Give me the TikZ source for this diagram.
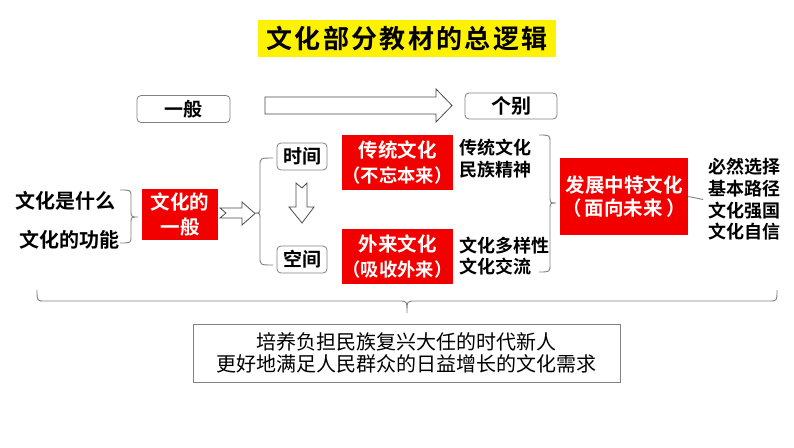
\documentclass[tikz,border=0pt]{standalone}
\usepackage{fontspec}
\setmainfont{Noto Sans CJK SC}[BoldFont={Noto Sans CJK SC Bold}]
\newfontfamily\titlefont{Noto Sans CJK SC Bold}[LetterSpace=9]
\definecolor{redbg}{HTML}{F20000}
\definecolor{linegray}{HTML}{808080}
\begin{document}
\begin{tikzpicture}[x=1pt,y=-1pt,
  redbox/.style={fill=redbg, text=white, align=center, inner sep=0pt,
    font=\bfseries\fontsize{19.5}{25}\selectfont},
  roundbox/.style={draw=linegray, rounded corners=4pt, line width=0.8pt, inner sep=0pt,
    font=\bfseries\fontsize{19}{22}\selectfont},
  plain/.style={inner sep=0pt, align=left, font=\bfseries\fontsize{18}{21.5}\selectfont},
  bracepath/.style={draw=linegray, line width=0.9pt},
  hollow/.style={draw=black!70, fill=white, line width=0.8pt, line join=miter}]
\useasboundingbox (0,0) rectangle (794,447);
\fill[white] (0,0) rectangle (794,447);

% title
\node[fill=yellow, minimum width=298pt, minimum height=37pt, inner sep=0pt,
  font=\titlefont\fontsize{26}{30}\selectfont] (title) at (407,38.5) {文化部分教材的总逻辑};

% top row
\node[roundbox, minimum width=93pt, minimum height=27pt] (yiban) at (183.5,109) {一般};
\node[roundbox, minimum width=92pt, minimum height=26pt, font=\bfseries\fontsize{20}{22}\selectfont] (gebie) at (511,106) {个别};
\draw[hollow] (265,97) -- (436,97) -- (436,89) -- (452,105.5) -- (436,122) -- (436,114) -- (265,114) -- cycle;

% left texts
\node[plain, font=\bfseries\fontsize{20}{22}\selectfont] (q1) at (65,201) {文化是什么};
\node[plain, font=\bfseries\fontsize{20}{22}\selectfont] (q2) at (69,240) {文化的功能};
\draw[bracepath] (120,190) .. controls (131,190) .. (131,197) -- (131,210)
  .. controls (131,217) .. (138,217) .. controls (131,217) .. (131,224) -- (131,236)
  .. controls (131,243) .. (120,243);

\node[redbox, minimum width=76pt, minimum height=51pt] (red1) at (180,214.5) {文化的\\一般};
\draw[hollow] (220,208) -- (242,208) -- (242,202) -- (255,213.5) -- (242,225) -- (242,218) -- (220,218) -- (226,213) -- cycle;

\draw[bracepath] (273,158) .. controls (260,158) .. (260,166) -- (260,206)
  .. controls (260,213) .. (255,213) .. controls (260,213) .. (260,220) -- (260,257)
  .. controls (260,265) .. (273,265);

\node[roundbox, minimum width=50pt, minimum height=27pt] (shijian) at (302,156.5) {时间};
\node[roundbox, minimum width=50pt, minimum height=27pt] (kongjian) at (302,259.5) {空间};
\draw[hollow] (296,183) -- (302,188) -- (307,183) -- (307,207) -- (314,207) -- (302,223)
  -- (289,207) -- (296,207) -- cycle;

\node[redbox, text width=111pt, minimum height=55pt] (red2) at (397.5,162.5) {传统文化\\{\fontsize{18.3}{25}\selectfont（不忘本来）}};
\node[redbox, text width=111pt, minimum height=55pt] (red3) at (397.5,256.5) {外来文化\\{\fontsize{18.3}{25}\selectfont（吸收外来）}};

\node[plain, anchor=west] (t2) at (459,158.5) {传统文化\\民族精神};
\node[plain, anchor=west] (t3) at (459,256) {文化多样性\\文化交流};

\draw[bracepath] (539,135) .. controls (550,135) .. (550,143) -- (550,196)
  .. controls (550,203) .. (556,203) .. controls (550,203) .. (550,210) -- (550,264)
  .. controls (550,272) .. (539,272);

\node[redbox, text width=128pt, minimum height=77pt, font=\bfseries\fontsize{19.5}{23}\selectfont] (red4) at (624,196.5) {发展中特文化\\（\,面向未来\,）};
\node[plain, anchor=west, inner xsep=5pt, font=\bfseries\fontsize{18}{21.7}\selectfont] (t4) at (703,199.5) {必然选择\\基本路径\\文化强国\\文化自信};
\draw[bracepath] (red4.east) -- (t4.west);

% bottom brace and box
\draw[bracepath] (37,290) .. controls (37,301) .. (45,301) -- (399,301)
  .. controls (407,301) .. (407,313) .. controls (407,301) .. (415,301) -- (769,301)
  .. controls (777,301) .. (777,290);
\node[draw=linegray, line width=0.9pt, minimum width=427pt, minimum height=58pt, inner sep=0pt,
  align=center, font=\fontsize{20}{22}\selectfont] (goal) at (406.5,353)
  {培养负担民族复兴大任的时代新人\\更好地满足人民群众的日益增长的文化需求};
\end{tikzpicture}
\end{document}
